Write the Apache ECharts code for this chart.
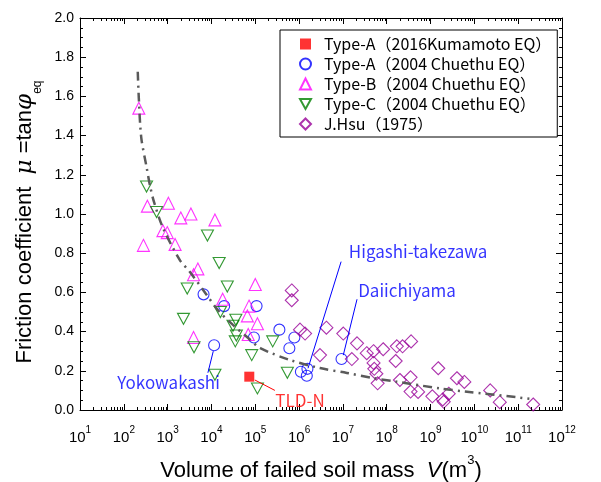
<!DOCTYPE html>
<html><head><meta charset="utf-8">
<script src="https://cdn.jsdelivr.net/npm/echarts@6.0.0/dist/echarts.min.js"></script>
<style>html,body{margin:0;padding:0;background:#fff}#c{width:601px;height:482px}</style>
</head><body><div id="c"></div>
<script>
// ---- data (V in m^3, mu) ----
const typeA2016 = [[7.3e4, 0.17]];
const typeA2004 = [
  [6.6e3, 0.59], [1.95e4, 0.53], [1.07e5, 0.53], [9.3e4, 0.37], [1.15e4, 0.33],
  [3.55e5, 0.41], [7.8e5, 0.37], [6.0e5, 0.315], [9.3e6, 0.26], [1.1e6, 0.195],
  [1.55e6, 0.21], [1.5e6, 0.175]
];
const typeB = [
  [2.2e2, 1.54], [3.45e2, 1.04], [1.04e3, 1.055], [2.0e3, 0.98], [3.4e3, 1.0],
  [1.2e4, 0.97], [7.8e2, 0.915], [9.8e2, 0.905], [2.8e2, 0.84], [1.48e3, 0.845],
  [4.9e3, 0.72], [3.9e3, 0.69], [1.0e5, 0.64], [1.8e4, 0.565], [7.2e4, 0.53],
  [6.6e4, 0.48], [3.9e3, 0.37], [1.12e5, 0.44], [6.9e4, 0.385]
];
const typeC = [
  [3.3e2, 1.14], [5.6e2, 1.01], [8.1e3, 0.89], [1.5e4, 0.75], [2.8e3, 0.62],
  [2.3e4, 0.63], [1.6e4, 0.50], [2.3e3, 0.465], [3.6e4, 0.46], [3.1e4, 0.43],
  [3.7e4, 0.38], [3.5e4, 0.35], [4.0e3, 0.32], [8.3e4, 0.28], [1.2e4, 0.18],
  [1.12e5, 0.11], [5.4e5, 0.19], [2.5e5, 0.35]
];
const jHsu = [
  [6.8e5, 0.61], [6.8e5, 0.56], [1.05e6, 0.41], [1.37e6, 0.39], [4.2e6, 0.42],
  [3.0e6, 0.28], [1.02e7, 0.39], [2.1e7, 0.34], [1.6e7, 0.26], [3.5e7, 0.29],
  [5.0e7, 0.30], [8.3e7, 0.31], [5.0e7, 0.24], [5.2e7, 0.21], [5.8e7, 0.185],
  [6.2e7, 0.136], [1.7e8, 0.325], [2.3e8, 0.325], [3.6e8, 0.35], [1.6e8, 0.25],
  [2.0e8, 0.153], [3.5e8, 0.167], [3.5e8, 0.094], [5.2e8, 0.092], [1.5e9, 0.213],
  [1.1e9, 0.07], [1.9e9, 0.054], [2.0e9, 0.042], [2.6e9, 0.083], [4.0e9, 0.162],
  [5.9e9, 0.143], [2.3e10, 0.10], [3.8e10, 0.04], [2.2e11, 0.028]
];
const trendCurve = [
  [2.08e2, 1.726], [2.2e2, 1.59], [2.5e2, 1.39], [3.3e2, 1.24], [4.0e2, 1.14],
  [4.9e2, 1.06], [7.8e2, 0.93], [1.9e3, 0.765], [3.2e3, 0.705], [7.8e3, 0.587],
  [1.4e4, 0.51], [3.1e4, 0.434], [6.9e4, 0.367], [1.3e5, 0.316], [6.2e5, 0.255],
  [3.0e6, 0.214], [1.23e7, 0.189], [4.9e7, 0.163], [1.7e8, 0.144], [1.66e9, 0.11],
  [6.8e9, 0.093], [9.3e10, 0.065], [1.8e11, 0.057]
];
const annotations = [
  {text: 'Yokowakashi', color: '#0000ff', label: [1.05e3, 0.14], from: [8.3e3, 0.19], to: [1.1e4, 0.30]},
  {text: 'TLD-N', color: '#ff0000', label: [1.05e6, 0.05], from: [9.8e4, 0.153], to: [2.8e5, 0.10]},
  {text: 'Higashi-takezawa', color: '#0000ff', label: [5.2e8, 0.81], from: [9.1e6, 0.757], to: [1.6e6, 0.213]},
  {text: 'Daiichiyama', color: '#0000ff', label: [2.9e8, 0.612], from: [2.1e7, 0.565], to: [1.02e7, 0.28]}
];
const seriesNames = ['Type-A（2016Kumamoto EQ）', 'Type-A（2004 Chuethu EQ）', 'Type-B（2004 Chuethu EQ）', 'Type-C（2004 Chuethu EQ）', 'J.Hsu（1975）'];
const xExpMin = 1, xExpMax = 12;
const yMin = 0, yMax = 2.0, yStep = 0.2;

// minor log ticks (2..9 x 10^n)
const minorX = [];
for (let e = xExpMin; e < xExpMax; e++) for (let k = 2; k <= 9; k++) minorX.push([k * Math.pow(10, e), 0]);

const AXFONT = 'Liberation Sans, Arial, sans-serif';
const JPFONT = '"Noto Sans CJK JP", sans-serif';

const chart = echarts.init(document.getElementById('c'), null, {renderer: 'canvas'});

const series = [
  {name: seriesNames[1], type: 'scatter', data: typeA2004, symbol: 'circle', symbolSize: 11, itemStyle: {color: 'rgba(255,255,255,0)', borderColor: '#0000ff', borderWidth: 1.1}, z: 3},
  {name: seriesNames[2], type: 'scatter', data: typeB, symbol: 'triangle', symbolSize: 12, itemStyle: {color: 'rgba(255,255,255,0)', borderColor: '#ff00ff', borderWidth: 1.1}, z: 3},
  {name: seriesNames[3], type: 'scatter', data: typeC, symbol: 'path://M0,0 L10,0 L5,9 Z', symbolSize: [12, 11], itemStyle: {color: 'rgba(255,255,255,0)', borderColor: '#008000', borderWidth: 1.1}, z: 3},
  {name: seriesNames[4], type: 'scatter', data: jHsu, symbol: 'diamond', symbolSize: 13, itemStyle: {color: 'rgba(255,255,255,0)', borderColor: '#990099', borderWidth: 1.1}, z: 3},
  {name: seriesNames[0], type: 'scatter', data: typeA2016, symbol: 'rect', symbolSize: 10, itemStyle: {color: '#ff0000'}, z: 4},
  {name: 'trend', type: 'line', data: trendCurve, showSymbol: false, symbol: 'none', smooth: 0.3,
   lineStyle: {color: '#5a5a5a', width: 2.5, type: [9, 5, 2, 5]}, z: 5, silent: true},
  {name: 'minorTicks', type: 'custom', data: minorX, silent: true, z: 6,
   renderItem: function (params, api) {
     const x = Math.round(api.coord([api.value(0), 1])[0]) + 0.5;
     const cs = params.coordSys;
     return {type: 'group', children: [
       {type: 'line', shape: {x1: x, y1: cs.y + cs.height, x2: x, y2: cs.y + cs.height - 3}, style: {stroke: '#000', lineWidth: 1}},
       {type: 'line', shape: {x1: x, y1: cs.y, x2: x, y2: cs.y + 3}, style: {stroke: '#000', lineWidth: 1}}
     ]};
   }}
];
annotations.forEach(function (a, i) {
  series.push({name: 'ann' + i, type: 'line', data: [a.from, a.to], symbol: 'none', silent: true, z: 6,
    lineStyle: {color: a.color, width: 1}});
  series.push({name: 'annText' + i, type: 'scatter', data: [a.label], symbolSize: 1, silent: true, z: 7,
    itemStyle: {color: 'rgba(0,0,0,0)'},
    label: {show: true, position: 'inside', formatter: a.text, color: a.color, fontSize: 17, fontFamily: JPFONT}});
});

const option = {
  animation: false,
  backgroundColor: '#fff',
  grid: {left: 80, right: 39, top: 18, bottom: 72, containLabel: false, outerBoundsMode: 'none'},
  legend: {
    data: seriesNames.map(function (n) { return {name: n}; }),
    orient: 'vertical', left: 280, top: 30, itemGap: 4, itemWidth: 11, itemHeight: 11,
    padding: [6, 6, 5, 19],
    borderColor: '#000', borderWidth: 1, backgroundColor: '#fff',
    textStyle: {fontSize: 16, color: '#000', fontFamily: JPFONT, padding: [0, 0, 0, 8]},
    selectedMode: false
  },
  xAxis: [
    {type: 'log', logBase: 10, min: Math.pow(10, xExpMin), max: Math.pow(10, xExpMax), interval: 1,
     position: 'bottom',
     name: '{t|Volume of failed soil mass  }{i|V}{t|(m}{sup|3}{t|)}', nameLocation: 'middle', nameGap: 44,
     nameTextStyle: {rich: {
       t: {fontSize: 22, fontFamily: AXFONT, color: '#000', lineHeight: 28, verticalAlign: 'bottom'},
       i: {fontSize: 22, fontFamily: AXFONT, fontStyle: 'italic', color: '#000', lineHeight: 28, verticalAlign: 'bottom'},
       sup: {fontSize: 13, fontFamily: AXFONT, color: '#000', lineHeight: 24, verticalAlign: 'top'}
     }},
     axisLine: {show: true, onZero: false, lineStyle: {color: '#000', width: 1}},
     axisTick: {show: true, inside: true, length: 6, lineStyle: {color: '#000'}},
     minorTick: {show: false},
     splitLine: {show: false},
     axisLabel: {margin: 15, formatter: function (v) { return '{b|10}{s|' + Math.round(Math.log10(v)) + '}'; },
       rich: {b: {fontSize: 15, fontFamily: AXFONT, color: '#000', lineHeight: 20, verticalAlign: 'bottom'},
              s: {fontSize: 10, fontFamily: AXFONT, color: '#000', lineHeight: 20, verticalAlign: 'top'}}}
    },
    {type: 'log', logBase: 10, min: Math.pow(10, xExpMin), max: Math.pow(10, xExpMax), interval: 1,
     position: 'top',
     axisLine: {show: true, onZero: false, lineStyle: {color: '#000', width: 1}},
     axisTick: {show: true, inside: true, length: 6, lineStyle: {color: '#000'}},
     axisLabel: {show: false}, splitLine: {show: false}}
  ],
  yAxis: [
    {type: 'value', min: yMin, max: yMax, interval: yStep, position: 'left',
     name: '{t|Friction coefficient  }{i|μ}{t| =tan}{i|φ}{s|eq}', nameLocation: 'middle', nameGap: 36, nameRotate: 90,
     nameTextStyle: {padding: [0, 16, 0, 0], rich: {
       t: {fontSize: 22, fontFamily: AXFONT, color: '#000', lineHeight: 30, verticalAlign: 'top'},
       i: {fontSize: 23, fontFamily: 'DejaVu Serif, serif', fontStyle: 'italic', color: '#000', lineHeight: 30, verticalAlign: 'top'},
       s: {fontSize: 12, fontFamily: AXFONT, color: '#000', lineHeight: 30, verticalAlign: 'bottom'}
     }},
     axisLine: {show: true, onZero: false, lineStyle: {color: '#000', width: 1}},
     axisTick: {show: true, inside: true, length: 6, lineStyle: {color: '#000'}},
     minorTick: {show: true, splitNumber: 4, length: 3, lineStyle: {color: '#000'}},
     splitLine: {show: false},
     axisLabel: {margin: 6, fontSize: 14, fontFamily: AXFONT, color: '#000', formatter: function (v) { return v.toFixed(1); }}
    },
    {type: 'value', min: yMin, max: yMax, interval: yStep, position: 'right',
     axisLine: {show: true, onZero: false, lineStyle: {color: '#000', width: 1}},
     axisTick: {show: true, inside: true, length: 6, lineStyle: {color: '#000'}},
     minorTick: {show: true, splitNumber: 4, length: 3, lineStyle: {color: '#000'}},
     axisLabel: {show: false}, splitLine: {show: false}}
  ],
  series: series
};
chart.setOption(option);
</script>
</body></html>
